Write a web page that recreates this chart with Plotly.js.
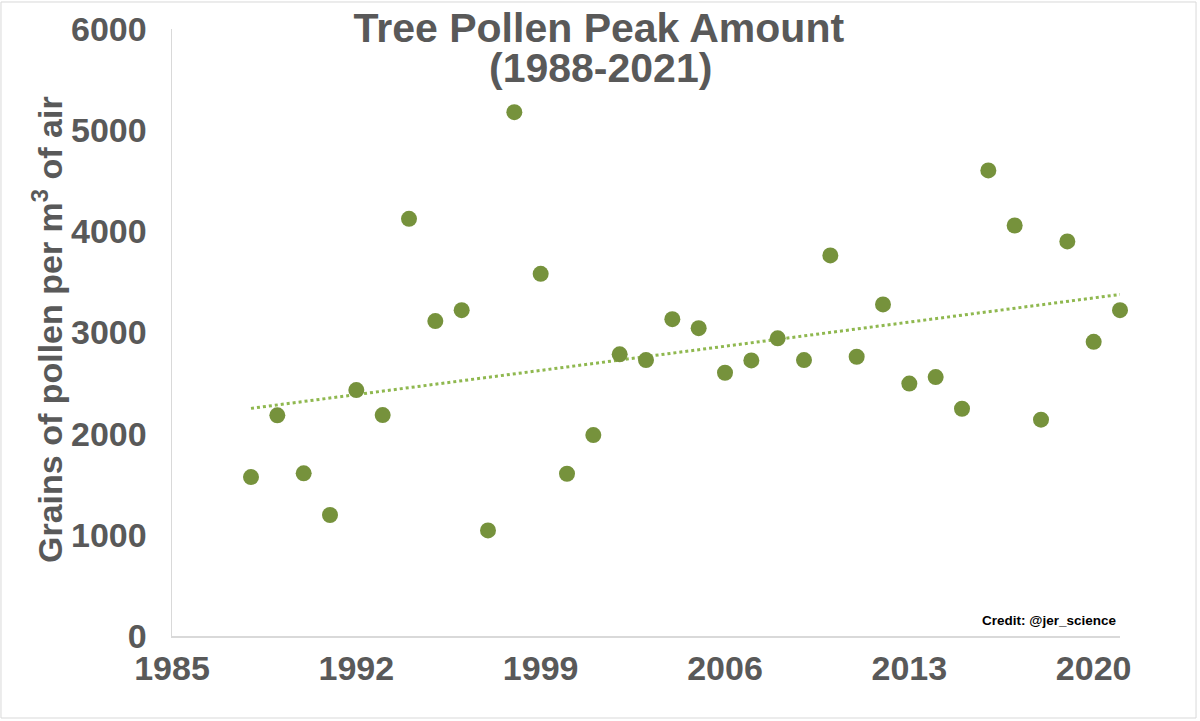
<!DOCTYPE html>
<html>
<head>
<meta charset="utf-8">
<script src="https://cdn.plot.ly/plotly-3.0.1.min.js"></script>
<style>
  html, body { margin: 0; padding: 0; background: #fff; }
  #plot { width: 1200px; height: 721px; }
</style>
</head>
<body>
<div id="plot"></div>
<script>
// peak tree pollen per year
const years = [1988, 1989, 1990, 1991, 1992, 1993, 1994, 1995, 1996, 1997,
               1998, 1999, 2000, 2001, 2002, 2003, 2004, 2005, 2006, 2007,
               2008, 2009, 2010, 2011, 2012, 2013, 2014, 2015, 2016, 2017,
               2018, 2019, 2020, 2021];
const pollen = [1571, 2181, 1608, 1196, 2431, 2184, 4124, 3113, 3221, 1044,
                5178, 3580, 1604, 1986, 2784, 2727, 3132, 3043, 2602, 2724,
                2942, 2727, 3762, 2760, 3278, 2495, 2559, 2246, 4602, 4058,
                2138, 3900, 2908, 3221];

// dotted trend line end points (as drawn in the chart)
const trendYears = [1988, 2021];
const trendValues = [2250, 3376];

const xTicks = [1985, 1992, 1999, 2006, 2013, 2020];
const yTicks = [0, 1000, 2000, 3000, 4000, 5000, 6000];

const fontFam = 'Liberation Sans, Arial, Helvetica, sans-serif';
const grey = '#595959';

let points = {
    x: years,
    y: pollen,
    mode: 'markers',
    type: 'scatter',
    cliponaxis: false,
    marker: { size: 16, color: '#76923c' },
    hoverinfo: 'x+y'
};

let trend = {
    x: trendYears,
    y: trendValues,
    mode: 'lines',
    type: 'scatter',
    line: { color: '#8fb84f', width: 3, dash: '3px,3px' },
    hoverinfo: 'skip'
};

const layout = {
    width: 1200,
    height: 721,
    margin: { l: 172, r: 80, t: 29, b: 85 },
    paper_bgcolor: '#fff',
    plot_bgcolor: '#fff',
    showlegend: false,
    font: { family: fontFam, color: grey },
    title: {
        text: 'Tree Pollen Peak Amount',
        font: { size: 41, weight: 'bold', color: grey, family: fontFam },
        xref: 'container', x: 0.499, xanchor: 'center',
        yref: 'container', y: 0.962, yanchor: 'middle'
    },
    xaxis: {
        range: [1985, 2021],
        tickvals: xTicks,
        ticktext: xTicks.map(String),
        showgrid: false,
        zeroline: false,
        showline: true,
        linecolor: '#d9d9d9',
        linewidth: 1.5,
        ticks: '',
        ticklabelstandoff: 2,
        tickfont: { size: 34, weight: 'bold', color: grey, family: fontFam }
    },
    yaxis: {
        range: [0, 6000],
        tickvals: yTicks,
        showgrid: false,
        zeroline: false,
        showline: true,
        linecolor: '#d9d9d9',
        linewidth: 1.5,
        ticks: '',
        ticklabelstandoff: 17,
        tickfont: { size: 34, weight: 'bold', color: grey, family: fontFam },
        automargin: false
    },
    annotations: [
        {
            // second title line, kept apart so the line gap matches
            text: '(1988-2021)',
            xref: 'paper', x: (600 - 172) / 948, xanchor: 'center',
            yref: 'paper', y: (636 - 68) / 607, yanchor: 'middle',
            showarrow: false,
            font: { size: 41, weight: 'bold', color: grey, family: fontFam }
        },
        {
            // y axis title
            text: 'Grains of pollen per m<sup>3</sup> of air',
            textangle: -90,
            xref: 'paper', x: (47 - 172) / 948, xanchor: 'center',
            yref: 'paper', y: (636 - 330) / 607, yanchor: 'middle',
            showarrow: false,
            font: { size: 34, weight: 'bold', color: grey, family: fontFam }
        },
        {
            text: 'Credit: @jer_science',
            xref: 'paper', x: 0.998, xanchor: 'right',
            yref: 'paper', y: 0.025, yanchor: 'middle',
            showarrow: false,
            font: { size: 13.5, weight: 'bold', color: '#000', family: fontFam }
        }
    ],
    shapes: [
        {
            type: 'rect', xref: 'paper', yref: 'paper',
            x0: -0.1804, x1: 1.0802, y0: -0.1351, y1: 1.0445,
            line: { color: '#d9d9d9', width: 1 }
        }
    ]
};

const config = { displayModeBar: false, staticPlot: true };

Plotly.newPlot('plot', [trend, points], layout, config);
</script>
</body>
</html>
